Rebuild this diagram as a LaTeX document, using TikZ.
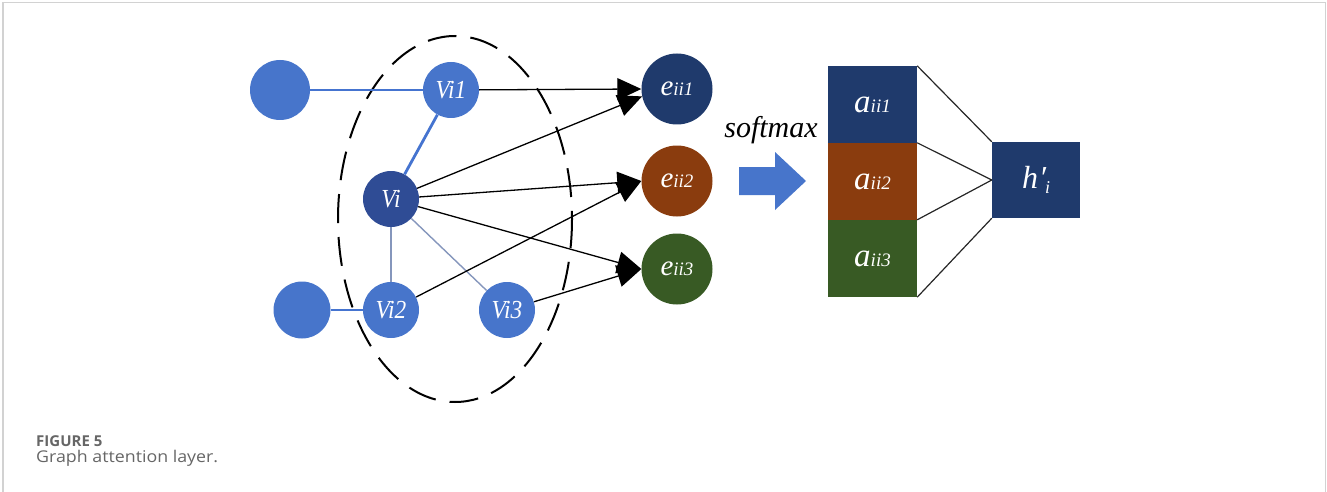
\documentclass[tikz,border=0pt]{standalone}
\usepackage{fontspec}
\usepackage{graphicx}
\setmainfont{Liberation Serif}
\newfontfamily\capfont{Open Sans}
\newfontfamily\labfont[FakeStretch=0.9]{Liberation Serif}
\usetikzlibrary{arrows.meta}

\definecolor{nodeblue}{HTML}{4775CB}
\definecolor{centerblue}{HTML}{2F4C95}
\definecolor{navy}{HTML}{1F3A6C}
\definecolor{rust}{HTML}{8A3C0E}
\definecolor{moss}{HTML}{385A24}
\definecolor{framegray}{HTML}{D2D2D2}
\definecolor{capgray}{HTML}{666666}
\definecolor{linkblue}{HTML}{4574D0}
\definecolor{thinlink}{HTML}{8596BC}

% labels: big italic letter, smaller italic indices, set a little low
\newcommand\bigsmall[3]{\raisebox{-6pt}{{\fontsize{#1}{#1}\selectfont\itshape #2}{\fontsize{19}{19}\selectfont\itshape #3}}}

\tikzset{
  vnode/.style={circle, fill=nodeblue, minimum size=56pt, inner sep=0pt,
    text=white, font=\labfont\itshape\fontsize{26}{26}\selectfont},
  outer/.style={circle, fill=nodeblue, minimum size=60pt, inner sep=0pt},
  enode/.style={circle, minimum size=71pt, inner sep=0pt, text=white},
  abox/.style={rectangle, minimum width=89pt, minimum height=77pt, inner sep=0pt, text=white},
  hbox/.style={rectangle, fill=navy, minimum width=88pt, minimum height=76pt, inner sep=0pt, text=white},
  thicklink/.style={linkblue, line width=2.8pt},
  thinlinkstyle/.style={thinlink, line width=1.8pt},
  arr/.style={black, line width=1.3pt, -{Triangle[length=24pt,width=22pt]}},
  fan/.style={black!85, line width=1.2pt},
}

\begin{document}
\begin{tikzpicture}[x=1pt,y=-1pt]
\useasboundingbox (0,0) rectangle (1327,492);
% frame
\draw[framegray, line width=1.6pt] (3,492) -- (3,2.5) -- (1325.5,2.5) -- (1325.5,492);

% neighbourhood
\draw[black, line width=2pt, dash pattern=on 29pt off 14pt] (455,219) ellipse [x radius=117, y radius=183];

% graph nodes
\node[outer] (p1) at (280,90) {};
\node[outer, minimum size=57pt] (p2) at (302,310) {};
\node[vnode] (v1) at (451,90) {Vi1};
\node[vnode, fill=centerblue] (v) at (391,199) {Vi};
\node[vnode] (v2) at (391,310) {Vi2};
\node[vnode] (v3) at (507,310) {Vi3};

% attention coefficients
\node[enode, fill=navy] (e1) at (677,89) {\bigsmall{29}{e}{ii1}};
\node[enode, fill=rust] (e2) at (677,181) {\bigsmall{29}{e}{ii2}};
\node[enode, fill=moss] (e3) at (677,269) {\bigsmall{29}{e}{ii3}};

% graph edges
\draw[thicklink] (p1) -- (v1);
\draw[thicklink] (v1) -- (v);
\draw[thicklink] (p2) -- (v2);
\draw[thinlinkstyle] (v) -- (v2);
\draw[thinlink, line width=1.4pt] (v) -- (v3);

% arrows to coefficients
\draw[arr] (v1) -- (e1.180);
\draw[arr] (v) -- (e1.192);
\draw[arr] (v) -- (e2.west);
\draw[arr] (v2) -- (e2.west);
\draw[arr] (v) -- (e3.west);
\draw[arr] (v3) -- (e3.west);

% softmax step
\node[anchor=base, inner sep=0pt, font=\itshape\fontsize{30}{30}\selectfont] (sm) at (771,138) {softmax};
\fill[nodeblue] (739,167) -- (775,167) -- (775,152) -- (806,181) -- (775,210) -- (775,195) -- (739,195) -- cycle;

% normalised coefficients
\node[abox, fill=navy] (a1) at (872.5,104.5) {\bigsmall{33}{a}{ii1}};
\node[abox, fill=rust] (a2) at (872.5,181.5) {\bigsmall{33}{a}{ii2}};
\node[abox, fill=moss] (a3) at (872.5,258.5) {\bigsmall{33}{a}{ii3}};

% output feature
\node[hbox] (h) at (1036,180) {{\fontsize{32}{32}\selectfont\itshape h\kern1pt\char"2032}\kern-1pt\raisebox{-5pt}{\fontsize{18}{18}\selectfont\itshape i}};

\draw[fan] (a1.north east) -- (h.north west);
\draw[fan] (a2.north east) -- (h.west);
\draw[fan] (a3.north east) -- (h.west);
\draw[fan] (a3.south east) -- (h.south west);

% caption
\node[anchor=base west, inner sep=0pt, text=capgray, font=\capfont\bfseries\fontsize{15}{15}\selectfont] (figno) at (36,446) {FIGURE 5};
\node[anchor=base west, inner sep=0pt, text=capgray, font=\capfont\fontsize{16}{16}\selectfont] (figcap) at (36,462) {\resizebox{182pt}{12.3pt}{Graph attention layer.}};
\end{tikzpicture}
\end{document}
